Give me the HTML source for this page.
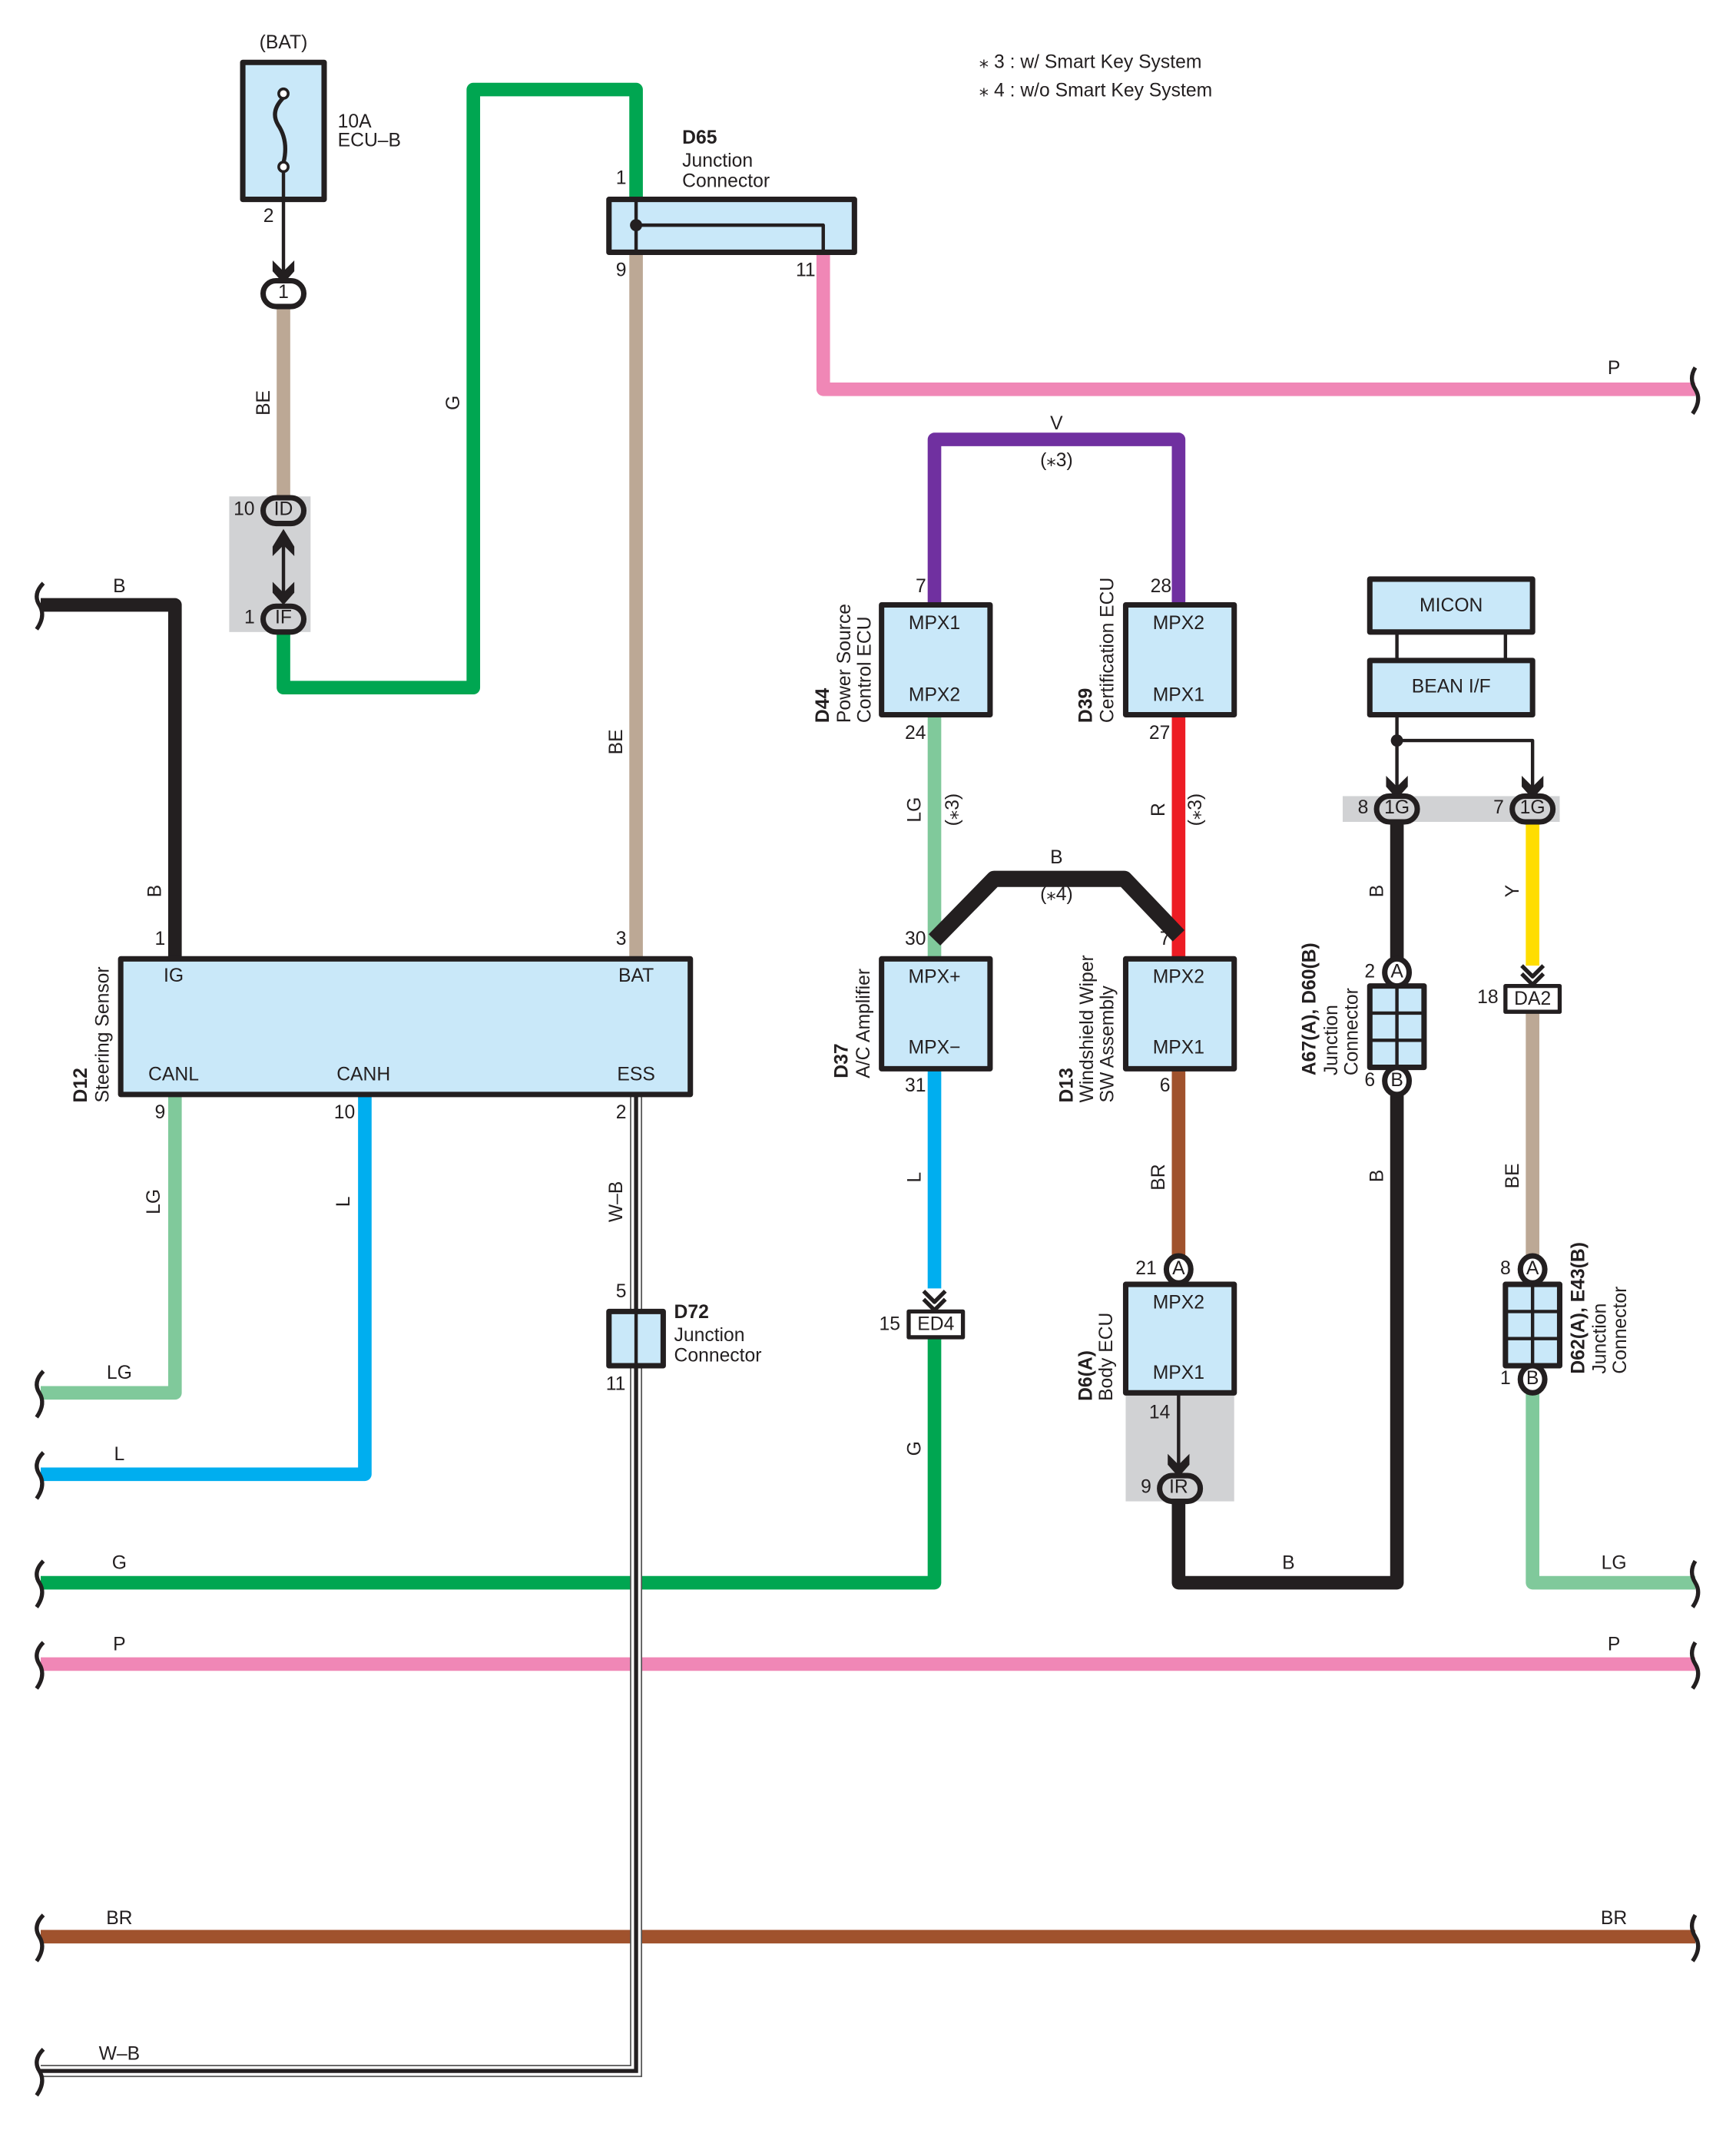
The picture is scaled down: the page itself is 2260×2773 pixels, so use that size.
<!DOCTYPE html>
<html><head><meta charset="utf-8"><style>
html,body{margin:0;padding:0;background:#fff;}
svg{display:block;}
text{font-family:"Liberation Sans Narrow","Liberation Sans",sans-serif;font-size:14px;fill:#231f20;}
.b{font-weight:bold;}
</style></head><body>
<svg width="2260" height="2773" viewBox="0 0 1280 1570.5" xmlns="http://www.w3.org/2000/svg">
<defs>
<g id="arr"><path d="M-8,-12 L0,-4 L8,-12 L8,-4 L0,5 L-8,-4 Z" fill="#231f20"/></g>
<g id="dblarr"><path d="M-8,-14 L0,-6 L8,-14 M-8,-8 L0,0 L8,-8" fill="none" stroke="#231f20" stroke-width="3"/></g>
</defs>
<g fill="none" stroke-linejoin="round" stroke-linecap="butt">
<!-- gray shaded areas -->
<rect x="169" y="366" width="60" height="100" fill="#d1d2d4" stroke="none"/>
<rect x="990" y="587" width="160" height="19" fill="#d1d2d4" stroke="none"/>
<rect x="830" y="1027" width="80" height="80" fill="#d1d2d4" stroke="none"/>

<!-- wires -->
<path d="M209,226 V366" stroke="#bca895" stroke-width="10"/>
<path d="M209,466 V507 H349 V66 H469 V147" stroke="#00a651" stroke-width="10"/>
<path d="M469,186 V707" stroke="#bca895" stroke-width="10"/>
<path d="M607,186 V287 H1250" stroke="#f087b6" stroke-width="10"/>
<path d="M689,446 V324 H869 V446" stroke="#7030a0" stroke-width="10"/>
<path d="M689,527 V707" stroke="#80c99b" stroke-width="10"/>
<path d="M869,527 V707" stroke="#ed1c24" stroke-width="10"/>
<path d="M689,693 L733,648 H829 L869,690" stroke="#231f20" stroke-width="12"/>
<path d="M689,788 V950" stroke="#00aeef" stroke-width="10"/>
<path d="M689,986 V1167 H30" stroke="#00a651" stroke-width="10"/>
<path d="M869,788 V926" stroke="#a0522d" stroke-width="10"/>
<path d="M869,1107 V1167 H1030 V807" stroke="#231f20" stroke-width="10"/>
<path d="M1030,606 V707" stroke="#231f20" stroke-width="10"/>
<path d="M1130,606 V712" stroke="#ffdd00" stroke-width="10"/>
<path d="M1130,746 V926" stroke="#bca895" stroke-width="10"/>
<path d="M1130,1027 V1167 H1250" stroke="#80c99b" stroke-width="10"/>
<path d="M30,446 H129 V707" stroke="#231f20" stroke-width="10"/>
<path d="M129,807 V1027 H30" stroke="#80c99b" stroke-width="10"/>
<path d="M269,807 V1087 H30" stroke="#00aeef" stroke-width="10"/>
<path d="M30,1227 H1250" stroke="#f087b6" stroke-width="10"/>
<path d="M30,1428 H1250" stroke="#a0522d" stroke-width="10"/>
<!-- W-B -->
<g stroke-linejoin="miter">
<path d="M469,807 V967 M469,1007 V1527 H30" stroke="#555" stroke-width="9"/>
<path d="M469,807 V967 M469,1007 V1527 H30" stroke="#fff" stroke-width="7"/>
<path d="M469,807 V967 M469,1007 V1527 H30" stroke="#231f20" stroke-width="3"/>
</g>

<!-- break symbols -->
<g stroke="#231f20" stroke-width="3">
<path d="M32,430 q-8,8 -3,16 q5,8 -2,18"/>
<path d="M32,1011 q-8,8 -3,16 q5,8 -2,18"/>
<path d="M32,1071 q-8,8 -3,16 q5,8 -2,18"/>
<path d="M32,1151 q-8,8 -3,16 q5,8 -2,18"/>
<path d="M32,1211 q-8,8 -3,16 q5,8 -2,18"/>
<path d="M32,1412 q-8,8 -3,16 q5,8 -2,18"/>
<path d="M32,1511 q-8,8 -3,16 q5,8 -2,18"/>
<path d="M1250,271 q-5,8 0,16 q5,8 -2,18"/>
<path d="M1250,1151 q-5,8 0,16 q5,8 -2,18"/>
<path d="M1250,1211 q-5,8 0,16 q5,8 -2,18"/>
<path d="M1250,1412 q-5,8 0,16 q5,8 -2,18"/>
</g>

<!-- boxes -->
<g fill="#c9e8f9" stroke="#231f20" stroke-width="4">
<rect x="179" y="46" width="60" height="101"/>
<rect x="449" y="147" width="181" height="39"/>
<rect x="650" y="446" width="80" height="81"/>
<rect x="830" y="446" width="80" height="81"/>
<rect x="650" y="707" width="80" height="81"/>
<rect x="830" y="707" width="80" height="81"/>
<rect x="830" y="947" width="80" height="80"/>
<rect x="1010" y="427" width="120" height="39"/>
<rect x="1010" y="487" width="120" height="40"/>
<rect x="89" y="707" width="420" height="100"/>
<rect x="1010" y="727" width="40" height="60"/>
<rect x="1110" y="947" width="40" height="60"/>
<rect x="449" y="967" width="40" height="40"/>
</g>
<g fill="#fff" stroke="#231f20" stroke-width="3">
<rect x="670" y="967" width="40" height="19"/>
<rect x="1110" y="727" width="40" height="19"/>
</g>
<!-- junction connector internals -->
<g stroke="#231f20" stroke-width="2.5">
<path d="M1030,727 V787 M1010,747 H1050 M1010,767 H1050"/>
<path d="M1130,947 V1007 M1110,967 H1150 M1110,987 H1150"/>
<path d="M469,967 V1007"/>
<path d="M1030,466 V487 M1110,466 V487"/>
</g>
<!-- fuse -->
<path d="M209,72 q-10,10 -4,20 q8,12 4,28" stroke="#231f20" stroke-width="3"/>
<circle cx="209" cy="69" r="3.5" fill="#fff" stroke="#231f20" stroke-width="2"/>
<circle cx="209" cy="123" r="3.5" fill="#fff" stroke="#231f20" stroke-width="2"/>
<path d="M209,127 V205" stroke="#231f20" stroke-width="2.5"/>
<use href="#arr" x="209" y="204"/>
<!-- D65 internal -->
<path d="M469,147 V186 M469,166 H607 V186" stroke="#231f20" stroke-width="2.5"/>
<circle cx="469" cy="166" r="4.5" fill="#231f20"/>
<!-- ID/IF double arrow -->
<path d="M209,395 V440" stroke="#231f20" stroke-width="2.5"/>
<path d="M201,403 L209,390 L217,403 L217,410 L209,402 L201,410 Z" fill="#231f20"/>
<use href="#arr" x="209" y="441"/>
<!-- MICON arrows -->
<path d="M1030,527 V585 M1030,546 H1130 V585" stroke="#231f20" stroke-width="2.5"/>
<circle cx="1030" cy="546" r="4.5" fill="#231f20"/>
<use href="#arr" x="1030" y="584"/>
<use href="#arr" x="1130" y="584"/>
<!-- D6 IR arrow -->
<path d="M869,1027 V1085" stroke="#231f20" stroke-width="2.5"/>
<use href="#arr" x="869" y="1084"/>
<!-- double chevrons -->
<use href="#dblarr" x="689" y="966"/>
<use href="#dblarr" x="1130" y="726"/>

<!-- ovals -->
<g stroke="#231f20" stroke-width="4">
<rect x="194" y="207" width="30" height="19" rx="9.5" fill="#fff"/>
<rect x="194" y="367" width="30" height="19" rx="9.5" fill="#d1d2d4"/>
<rect x="194" y="447" width="30" height="19" rx="9.5" fill="#d1d2d4"/>
<rect x="1015" y="587" width="30" height="19" rx="9.5" fill="#d1d2d4"/>
<rect x="1115" y="587" width="30" height="19" rx="9.5" fill="#d1d2d4"/>
<rect x="855" y="1088" width="30" height="19" rx="9.5" fill="#d1d2d4"/>
<ellipse cx="869" cy="936" rx="9" ry="10" fill="#fff"/>
<ellipse cx="1030" cy="717" rx="9" ry="10" fill="#fff"/>
<ellipse cx="1030" cy="797" rx="9" ry="10" fill="#fff"/>
<ellipse cx="1130" cy="936" rx="9" ry="10" fill="#fff"/>
<ellipse cx="1130" cy="1017" rx="9" ry="10" fill="#fff"/>
</g>
</g>

<!-- texts -->
<g dominant-baseline="middle" text-anchor="middle">
<text x="209" y="32">(BAT)</text>
<text x="209" y="216">1</text>
<text x="209" y="376">ID</text>
<text x="209" y="456">IF</text>
<text x="1030" y="596">1G</text>
<text x="1130" y="596">1G</text>
<text x="869" y="1097">IR</text>
<text x="869" y="936">A</text>
<text x="1030" y="717">A</text>
<text x="1030" y="797">B</text>
<text x="1130" y="936">A</text>
<text x="1130" y="1017">B</text>
<text x="690" y="977">ED4</text>
<text x="1130" y="737">DA2</text>
<text x="689" y="460">MPX1</text><text x="689" y="513">MPX2</text>
<text x="869" y="460">MPX2</text><text x="869" y="513">MPX1</text>
<text x="689" y="721">MPX+</text><text x="689" y="773">MPX−</text>
<text x="869" y="721">MPX2</text><text x="869" y="773">MPX1</text>
<text x="869" y="961">MPX2</text><text x="869" y="1013">MPX1</text>
<text x="1070" y="447">MICON</text>
<text x="1070" y="507">BEAN I/F</text>
<text x="128" y="720">IG</text><text x="469" y="720">BAT</text>
<text x="128" y="793">CANL</text><text x="268" y="793">CANH</text><text x="469" y="793">ESS</text>
<text x="198" y="160">2</text>
<text x="458" y="132">1</text><text x="458" y="200">9</text><text x="594" y="200">11</text>
<text x="180" y="376">10</text><text x="184" y="456">1</text>
<text x="679" y="433">7</text><text x="675" y="541">24</text>
<text x="856" y="433">28</text><text x="855" y="541">27</text>
<text x="675" y="693">30</text><text x="675" y="801">31</text>
<text x="859" y="693">7</text><text x="859" y="801">6</text>
<text x="656" y="977">15</text>
<text x="845" y="936">21</text><text x="855" y="1042">14</text><text x="845" y="1097">9</text>
<text x="1005" y="596">8</text><text x="1105" y="596">7</text>
<text x="1010" y="717">2</text><text x="1010" y="797">6</text>
<text x="1097" y="736">18</text>
<text x="1110" y="936">8</text><text x="1110" y="1017">1</text>
<text x="118" y="693">1</text><text x="458" y="693">3</text>
<text x="118" y="821">9</text><text x="254" y="821">10</text><text x="458" y="821">2</text>
<text x="458" y="953">5</text><text x="454" y="1021">11</text>
<text x="1190" y="272">P</text>
<text x="779" y="313">V</text><text x="779" y="340">(⁎3)</text>
<text x="779" y="633">B</text><text x="779" y="660">(⁎4)</text>
<text x="88" y="433">B</text>
<text x="88" y="1013">LG</text><text x="88" y="1073">L</text>
<text x="88" y="1153">G</text><text x="950" y="1153">B</text><text x="1190" y="1153">LG</text>
<text x="88" y="1213">P</text><text x="1190" y="1213">P</text>
<text x="88" y="1415">BR</text><text x="1190" y="1415">BR</text>
<text x="88" y="1515">W–B</text>
</g>
<!-- rotated wire labels -->
<g text-anchor="middle" dominant-baseline="middle">
<text transform="translate(195,297) rotate(-90)">BE</text>
<text transform="translate(335,297) rotate(-90)">G</text>
<text transform="translate(455,547) rotate(-90)">BE</text>
<text transform="translate(675,597) rotate(-90)">LG</text>
<text transform="translate(703,597) rotate(-90)">(⁎3)</text>
<text transform="translate(855,597) rotate(-90)">R</text>
<text transform="translate(882,597) rotate(-90)">(⁎3)</text>
<text transform="translate(675,868) rotate(-90)">L</text>
<text transform="translate(855,868) rotate(-90)">BR</text>
<text transform="translate(675,1068) rotate(-90)">G</text>
<text transform="translate(1016,657) rotate(-90)">B</text>
<text transform="translate(1016,867) rotate(-90)">B</text>
<text transform="translate(1116,657) rotate(-90)">Y</text>
<text transform="translate(1116,867) rotate(-90)">BE</text>
<text transform="translate(115,657) rotate(-90)">B</text>
<text transform="translate(114,886) rotate(-90)">LG</text>
<text transform="translate(254,886) rotate(-90)">L</text>
<text transform="translate(455,886) rotate(-90)">W–B</text>
</g>
<!-- component labels -->
<text x="249" y="94">10A</text>
<text x="249" y="108">ECU–B</text>
<text x="503" y="106" class="b">D65</text>
<text x="503" y="123">Junction</text>
<text x="503" y="138">Connector</text>
<text x="497" y="972" class="b">D72</text>
<text x="497" y="989">Junction</text>
<text x="497" y="1004">Connector</text>
<text x="722" y="50">⁎ 3 : w/ Smart Key System</text>
<text x="722" y="71">⁎ 4 : w/o Smart Key System</text>
<g>
<text transform="translate(611,533) rotate(-90)" class="b">D44</text>
<text transform="translate(627,533) rotate(-90)">Power Source</text>
<text transform="translate(642,533) rotate(-90)">Control ECU</text>
<text transform="translate(805,533) rotate(-90)" class="b">D39</text>
<text transform="translate(821,533) rotate(-90)">Certification ECU</text>
<text transform="translate(625,795) rotate(-90)" class="b">D37</text>
<text transform="translate(641,795) rotate(-90)">A/C Amplifier</text>
<text transform="translate(791,813) rotate(-90)" class="b">D13</text>
<text transform="translate(806,813) rotate(-90)">Windshield Wiper</text>
<text transform="translate(821,813) rotate(-90)">SW Assembly</text>
<text transform="translate(805,1033) rotate(-90)" class="b">D6(A)</text>
<text transform="translate(820,1033) rotate(-90)">Body ECU</text>
<text transform="translate(970,793) rotate(-90)" class="b">A67(A), D60(B)</text>
<text transform="translate(986,793) rotate(-90)">Junction</text>
<text transform="translate(1001,793) rotate(-90)">Connector</text>
<text transform="translate(1168,1013) rotate(-90)" class="b">D62(A), E43(B)</text>
<text transform="translate(1184,1013) rotate(-90)">Junction</text>
<text transform="translate(1199,1013) rotate(-90)">Connector</text>
<text transform="translate(64,813) rotate(-90)" class="b">D12</text>
<text transform="translate(80,813) rotate(-90)">Steering Sensor</text>
</g>
</svg>
</body></html>
